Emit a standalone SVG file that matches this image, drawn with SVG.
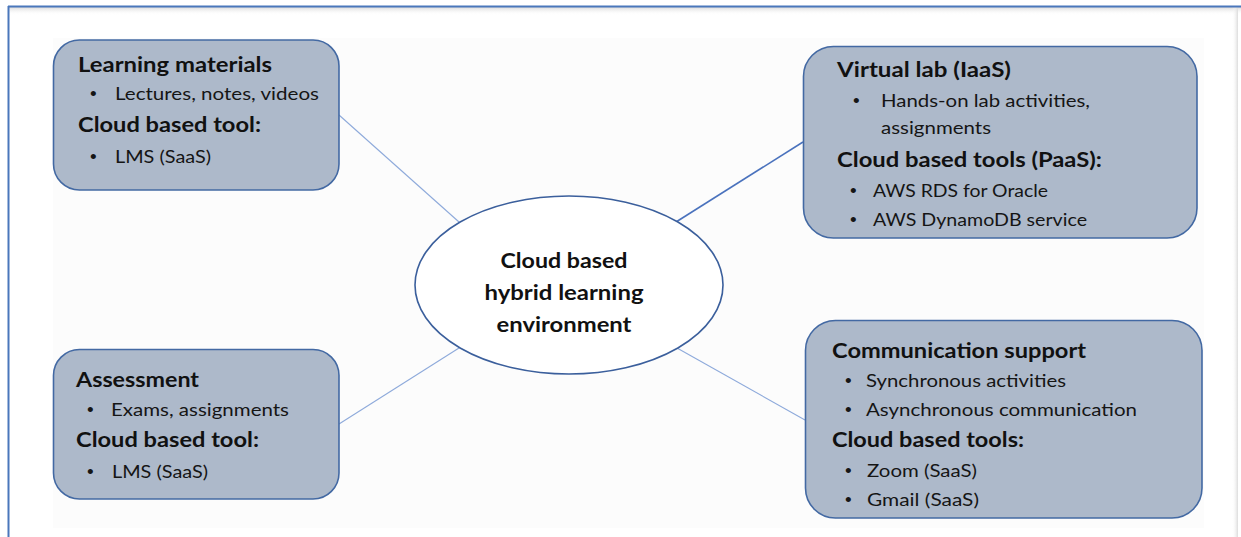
<svg xmlns="http://www.w3.org/2000/svg" width="1241" height="537" viewBox="0 0 1241 537">
<defs>
<linearGradient id="shadowTop" x1="0" y1="0" x2="0" y2="1">
<stop offset="0" stop-color="#d8d8d8"/>
<stop offset="1" stop-color="#ffffff" stop-opacity="0"/>
</linearGradient>
<linearGradient id="shadowRight" x1="0" y1="0" x2="1" y2="0">
<stop offset="0" stop-color="#ffffff" stop-opacity="0"/>
<stop offset="1" stop-color="#dcdcdc"/>
</linearGradient>
</defs>
<style>
.box{fill:#adb9ca;stroke:#4369a3;stroke-width:1.6}
.hub{fill:#ffffff;stroke:#3b5f9c;stroke-width:1.6}
.h{font-family:Lato,"Open Sans","Liberation Sans",sans-serif;font-weight:bold;font-size:21px;fill:#111}
.t{font-family:Lato,"Open Sans","Liberation Sans",sans-serif;font-size:18px;fill:#151515}
.b{font-family:"Liberation Sans",Arial,sans-serif;font-size:19px;fill:#151515}
.c{font-family:Lato,"Open Sans","Liberation Sans",sans-serif;font-weight:bold;font-size:21px;fill:#111;text-anchor:middle}
.thin{stroke:#8eaadb;stroke-width:1.1;fill:none}
.thick{stroke:#4a72bd;stroke-width:1.6;fill:none}
</style>
<rect x="0" y="0" width="1241" height="537" fill="#ffffff"/>
<rect x="9" y="7" width="1232" height="8" fill="url(#shadowTop)"/>
<rect x="1232" y="7" width="6" height="530" fill="url(#shadowRight)"/>
<rect x="53" y="38" width="1151" height="490" fill="#fcfcfc"/>
<line x1="8" y1="6.5" x2="1241" y2="6.5" stroke="#4a77bb" stroke-width="2"/>
<line x1="8.5" y1="6" x2="8.5" y2="537" stroke="#4a77bb" stroke-width="2"/>

<g id="connectors">
<line class="thin" x1="339" y1="115" x2="459" y2="222"/>
<line class="thick" x1="676" y1="222" x2="803" y2="142"/>
<line class="thin" x1="459" y1="348" x2="339" y2="424"/>
<line class="thin" x1="677" y1="348" x2="805" y2="420"/>
</g>

<g id="hub">
<ellipse class="hub" cx="569" cy="285" rx="154" ry="89"/>
<text class="c" x="564" y="268" textLength="127" lengthAdjust="spacingAndGlyphs">Cloud based</text>
<text class="c" x="564" y="300" textLength="159" lengthAdjust="spacingAndGlyphs">hybrid learning</text>
<text class="c" x="564" y="332" textLength="135" lengthAdjust="spacingAndGlyphs">environment</text>
</g>

<g id="learning-materials">
<rect class="box" x="53.5" y="40" width="285.5" height="150" rx="26"/>
<text class="h" x="78" y="72" textLength="194" lengthAdjust="spacingAndGlyphs">Learning materials</text>
<text class="b" x="90" y="100">•</text>
<text class="t" x="115" y="100" textLength="204" lengthAdjust="spacingAndGlyphs">Lectures, notes, videos</text>
<text class="h" x="78" y="132" textLength="183" lengthAdjust="spacingAndGlyphs">Cloud based tool:</text>
<text class="b" x="90" y="163">•</text>
<text class="t" x="115" y="163" textLength="96" lengthAdjust="spacingAndGlyphs">LMS (SaaS)</text>
</g>

<g id="virtual-lab">
<rect class="box" x="803.5" y="46.5" width="393.5" height="191.5" rx="30"/>
<text class="h" x="837" y="77" textLength="174" lengthAdjust="spacingAndGlyphs">Virtual lab (IaaS)</text>
<text class="b" x="853" y="107">•</text>
<text class="t" x="881" y="107" textLength="209" lengthAdjust="spacingAndGlyphs">Hands-on lab activities,</text>
<text class="t" x="881" y="134" textLength="110" lengthAdjust="spacingAndGlyphs">assignments</text>
<text class="h" x="837" y="167" textLength="265" lengthAdjust="spacingAndGlyphs">Cloud based tools (PaaS):</text>
<text class="b" x="850" y="197">•</text>
<text class="t" x="873" y="197" textLength="175" lengthAdjust="spacingAndGlyphs">AWS RDS for Oracle</text>
<text class="b" x="850" y="226">•</text>
<text class="t" x="873" y="226" textLength="214" lengthAdjust="spacingAndGlyphs">AWS DynamoDB service</text>
</g>

<g id="assessment">
<rect class="box" x="53.5" y="349.5" width="285.5" height="149.5" rx="26"/>
<text class="h" x="76" y="387" textLength="123" lengthAdjust="spacingAndGlyphs">Assessment</text>
<text class="b" x="87" y="416">•</text>
<text class="t" x="111" y="416" textLength="178" lengthAdjust="spacingAndGlyphs">Exams, assignments</text>
<text class="h" x="76" y="447" textLength="183" lengthAdjust="spacingAndGlyphs">Cloud based tool:</text>
<text class="b" x="87" y="478">•</text>
<text class="t" x="112" y="478" textLength="96" lengthAdjust="spacingAndGlyphs">LMS (SaaS)</text>
</g>

<g id="communication-support">
<rect class="box" x="805.5" y="320.5" width="396.5" height="197.5" rx="30"/>
<text class="h" x="832" y="358" textLength="254" lengthAdjust="spacingAndGlyphs">Communication support</text>
<text class="b" x="845" y="387">•</text>
<text class="t" x="866" y="387" textLength="200" lengthAdjust="spacingAndGlyphs">Synchronous activities</text>
<text class="b" x="845" y="416">•</text>
<text class="t" x="866" y="416" textLength="271" lengthAdjust="spacingAndGlyphs">Asynchronous communication</text>
<text class="h" x="832" y="447" textLength="192" lengthAdjust="spacingAndGlyphs">Cloud based tools:</text>
<text class="b" x="845" y="477">•</text>
<text class="t" x="867" y="477" textLength="110" lengthAdjust="spacingAndGlyphs">Zoom (SaaS)</text>
<text class="b" x="845" y="506">•</text>
<text class="t" x="867" y="506" textLength="112" lengthAdjust="spacingAndGlyphs">Gmail (SaaS)</text>
</g>
</svg>
